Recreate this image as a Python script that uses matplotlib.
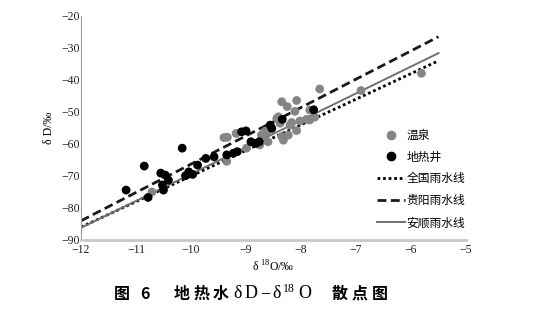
import numpy as np
import matplotlib
matplotlib.use("Agg")
import matplotlib.pyplot as plt
from matplotlib.lines import Line2D

plt.rcParams['font.family'] = ['Liberation Serif', 'Noto Sans CJK SC', 'DejaVu Sans']
plt.rcParams['mathtext.fontset'] = 'custom'
plt.rcParams['mathtext.rm'] = 'Liberation Serif'

# 温泉 (hot springs): δ18O, δD
spring_o = [-10.71, -9.40, -9.34, -9.18, -9.35, -8.72, -8.69, -8.62, -8.75, -8.60,
            -8.44, -8.38, -8.35, -8.25, -8.08, -8.11, -8.41, -8.20, -8.17, -8.02,
            -7.90, -7.84, -7.75, -7.84, -7.66, -6.91, -5.81, -8.35, -8.23, -8.08,
            -8.32, -8.99, -8.65]
spring_d = [-75.0, -58.0, -57.9, -56.7, -65.4, -57.2, -58.8, -56.2, -60.3, -59.3,
            -52.0, -53.5, -46.8, -48.3, -46.4, -49.8, -51.5, -54.1, -53.3, -52.8,
            -52.3, -52.5, -51.6, -49.4, -42.8, -43.3, -37.9, -57.7, -57.2, -55.8,
            -58.8, -61.3, -56.0]

# 地热井 (geothermal wells): δ18O, δD
well_o = [-11.18, -10.85, -10.78, -10.55, -10.47, -10.52, -10.41, -10.50, -10.16, -10.10,
          -10.04, -9.97, -9.88, -9.73, -9.58, -9.35, -9.23, -9.16, -9.08, -9.00,
          -8.91, -8.82, -8.76, -8.56, -8.53, -8.34, -7.77]
well_d = [-74.4, -66.9, -76.7, -69.1, -69.7, -72.8, -71.3, -74.4, -61.3, -69.9,
          -68.7, -69.5, -66.6, -64.5, -64.0, -63.4, -62.9, -62.4, -56.2, -55.9,
          -59.3, -59.8, -59.3, -54.1, -55.1, -52.3, -49.3]

# Meteoric water lines: δD = slope * δ18O + intercept
lmwl_names = ['全国雨水线', '贵阳雨水线', '安顺雨水线']
lmwl_slope = [8.0, 8.85, 8.4]
lmwl_intercept = [10.0, 22.2, 14.6]
lmwl_range = (-12.0, -5.5)

x_ticks = [-12, -11, -10, -9, -8, -7, -6, -5]
y_ticks = [-90, -80, -70, -60, -50, -40, -30, -20]

W, H = 543, 328
fig = plt.figure(figsize=(W / 100, H / 100), dpi=100)
ax = fig.add_axes([81 / W, 1 - 240 / H, (466 - 81) / W, (240 - 16) / H])

xs = np.array(lmwl_range)
styles = [dict(color='black', linestyle=(0, (1, 1)), linewidth=2.0),
          dict(color='#1a1a1a', linestyle=(0, (3.2, 1.6)), linewidth=2.0),
          dict(color='#707070', linestyle='-', linewidth=1.4)]
for s, b, st in zip(lmwl_slope, lmwl_intercept, styles):
    ax.plot(xs, s * xs + b, zorder=2, **st)

ax.scatter(spring_o, spring_d, s=40, color='#858585', edgecolors='none', zorder=3)
ax.scatter(well_o, well_d, s=40, color='black', edgecolors='none', zorder=4)

ax.set_xlim(-12, -5)
ax.set_ylim(-90, -20)
ax.set_xticks(x_ticks)
ax.set_yticks(y_ticks)
ax.set_xticklabels(['\u2212%d' % abs(v) for v in x_ticks])
ax.set_yticklabels(['\u2212%d' % abs(v) for v in y_ticks])
ax.tick_params(length=0, labelsize=8.5, colors='#222222')
ax.tick_params(axis='x', pad=3)
ax.tick_params(axis='y', pad=1)

for side in ('top', 'right'):
    ax.spines[side].set_visible(False)
ax.spines['left'].set_color('#9a9a9a')
ax.spines['left'].set_linewidth(0.8)
ax.spines['bottom'].set_color('#c8c8c8')
ax.spines['bottom'].set_linewidth(2.0)

ax.set_ylabel('δ D/‰', fontsize=8.5, labelpad=4)
ax.set_xlabel(r'δ $^{18}$O/‰', fontsize=8.5, labelpad=2)

handles = [
    Line2D([], [], linestyle='none', marker='o', markersize=6, color='#858585'),
    Line2D([], [], linestyle='none', marker='o', markersize=6, color='black'),
]
handles += [Line2D([], [], **st) for st in styles]
labels = ['温泉', '地热井'] + lmwl_names
fig.legend(handles, labels, loc='upper left', bbox_to_anchor=(372 / W, 1 - 124 / H),
           frameon=False, prop={'family': 'Noto Sans CJK SC', 'size': 8.5},
           handlelength=2.4, handletextpad=0.1, labelspacing=0.75, borderaxespad=0)

# Figure caption, drawn glyph by glyph for the wide letter spacing
cap_y = 1 - 294 / H
cjk = dict(fontsize=11.5, fontweight='bold', family=['Noto Sans CJK SC', 'DejaVu Sans'],
           ha='center', va='center')
for ch, px in [('图', 122), ('6', 145), ('地', 182), ('热', 202), ('水', 221),
               ('散', 340), ('点', 360), ('图', 380)]:
    fig.text(px / W, cap_y, ch, **cjk)
latin = dict(fontsize=13, family='Liberation Serif', ha='center', va='center')
for ch, px in [('δ', 238), ('D', 251), ('−', 265), ('δ', 277), ('O', 305)]:
    fig.text(px / W, cap_y, ch, **latin)
fig.text(289 / W, 1 - 289 / H, '18', fontsize=8.5, family='Liberation Serif',
         ha='center', va='center')

fig.savefig('out.png', dpi=100, facecolor='white')
